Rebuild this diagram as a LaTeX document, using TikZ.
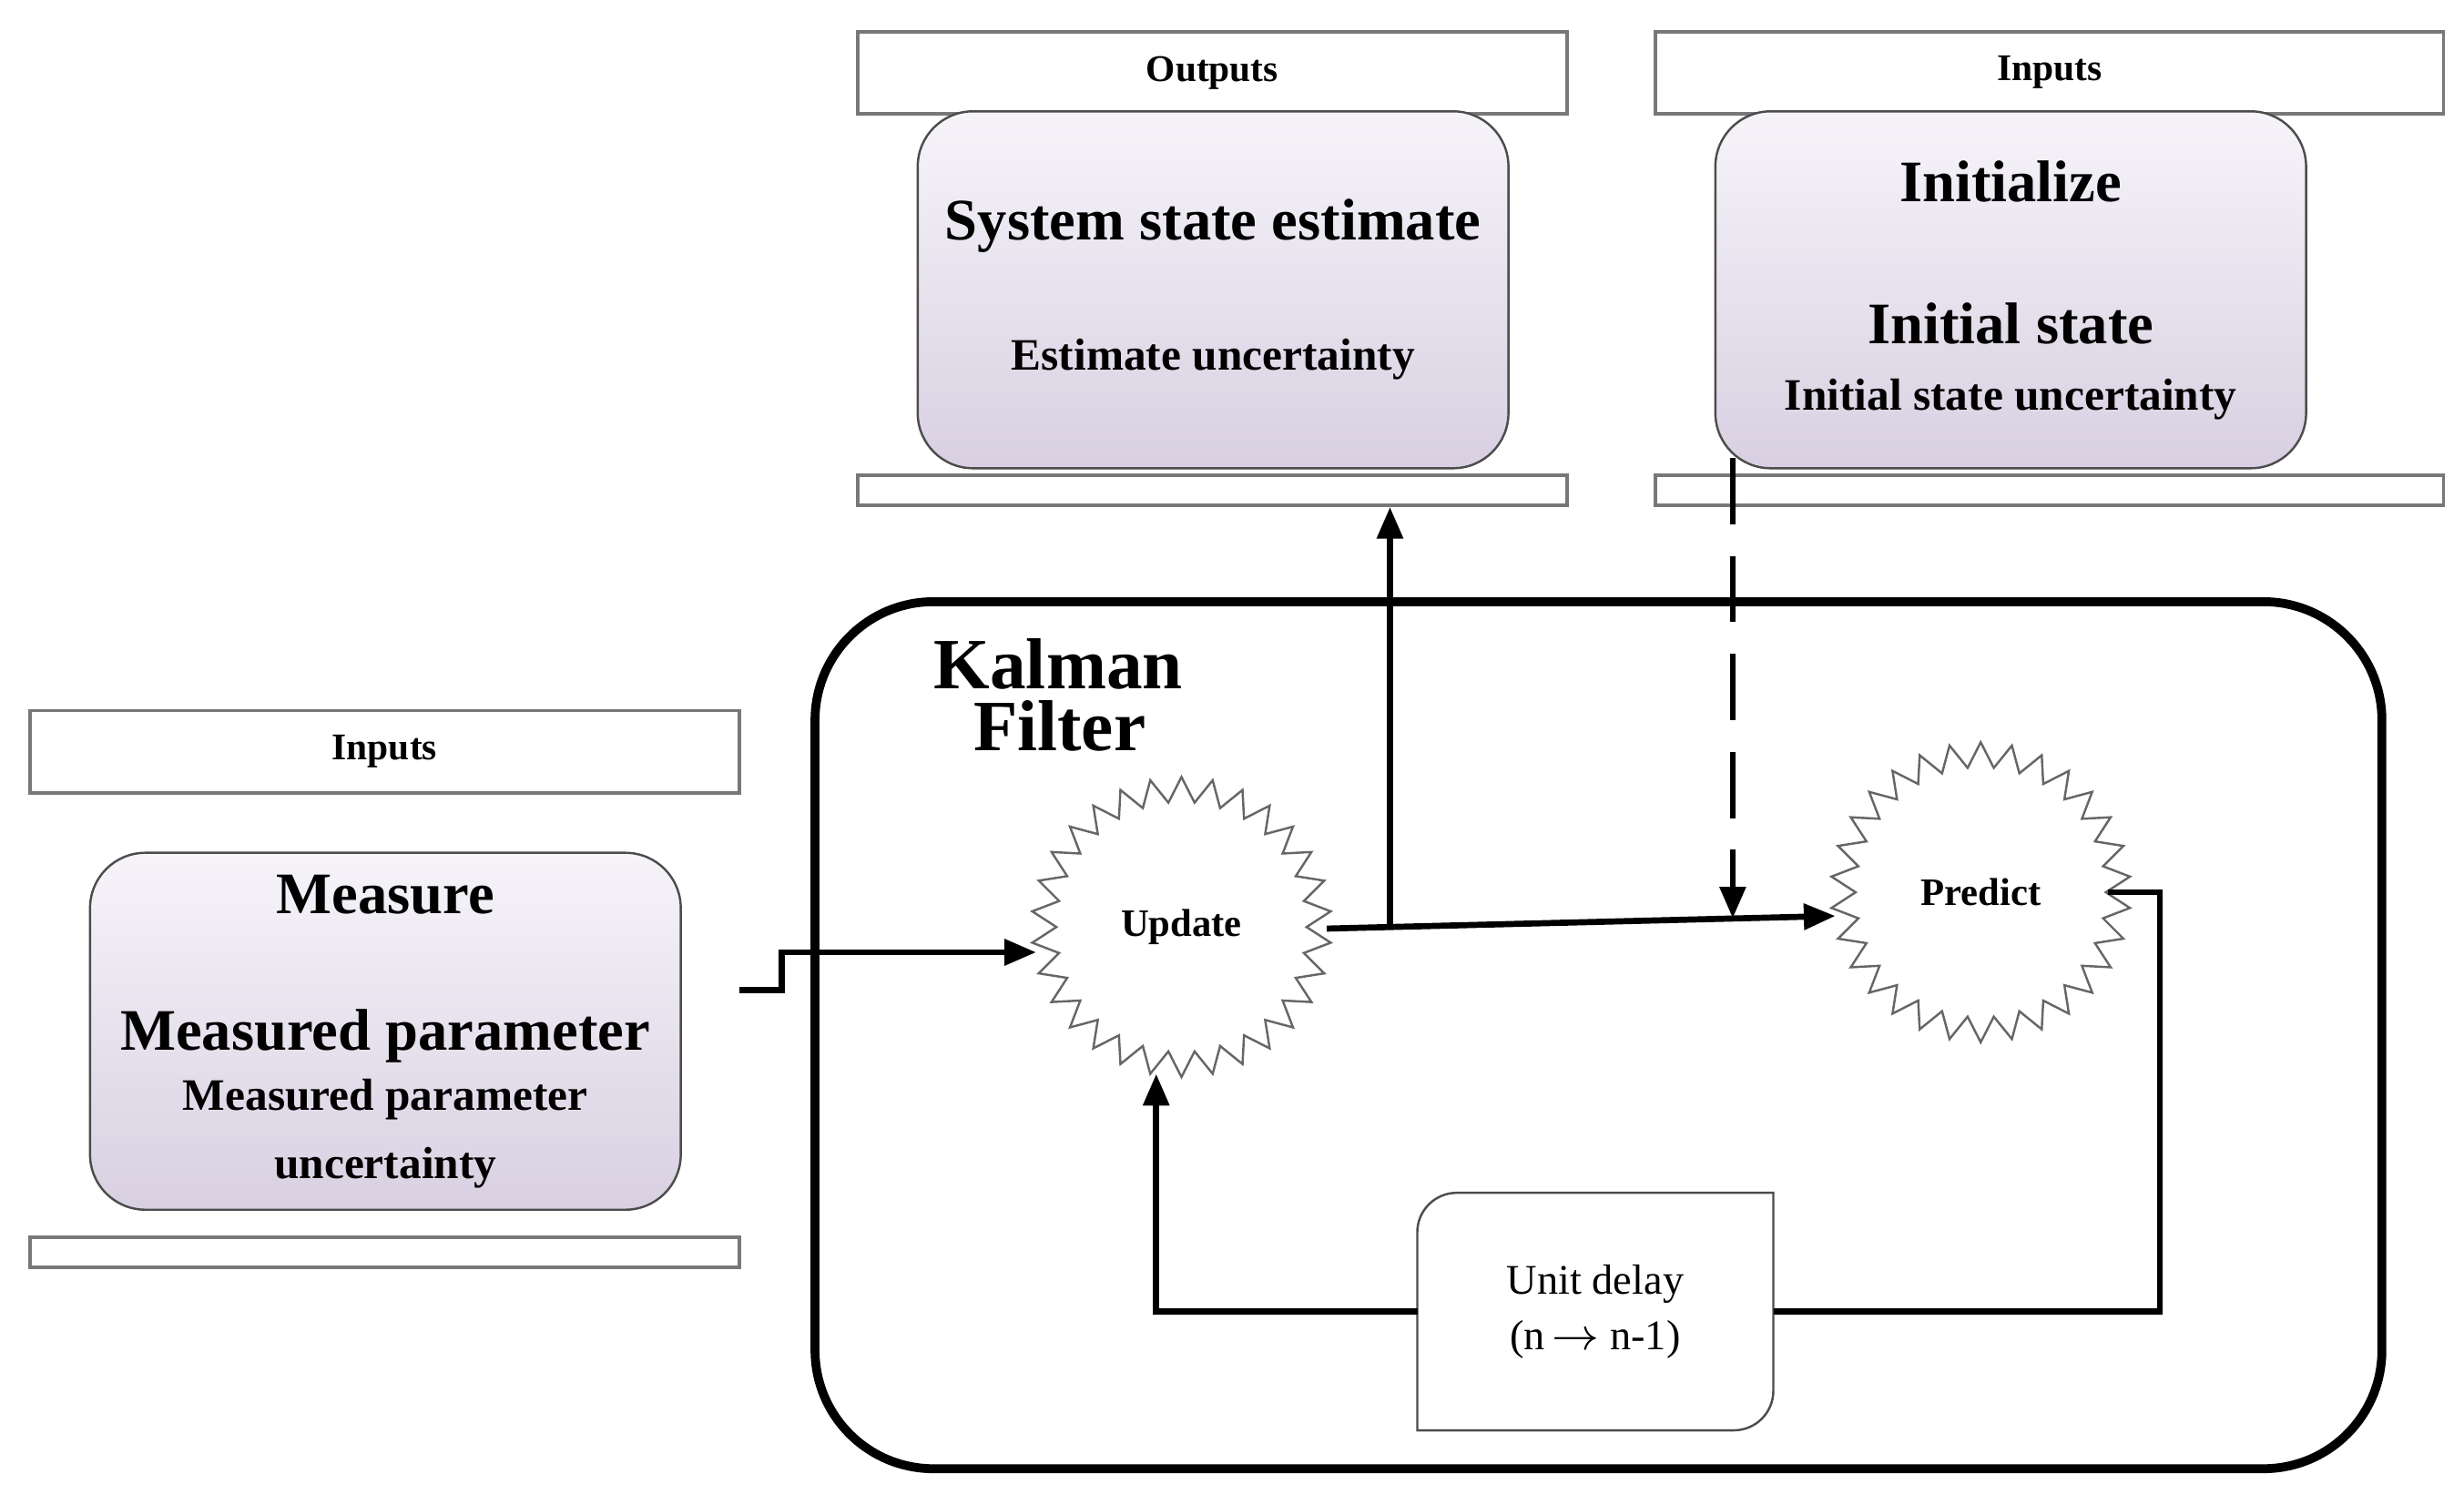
\documentclass[tikz,border=0pt]{standalone}
\usepackage{fontspec}
\setmainfont{Liberation Serif}
\usetikzlibrary{shapes.geometric,positioning,arrows.meta}
\definecolor{lavtop}{RGB}{246,244,249}
\definecolor{lavbot}{RGB}{216,208,226}
\definecolor{bargray}{RGB}{120,120,120}
\begin{document}
\begin{tikzpicture}[
    header/.style={draw=bargray, line width=0.6pt, fill=white, minimum width=4.49cm, minimum height=0.52cm, inner sep=0pt, font=\fontsize{6.8}{8}\selectfont\bfseries},
    wideheader/.style={header, minimum width=4.99cm},
    bar/.style={draw=bargray, line width=0.6pt, minimum width=4.49cm, minimum height=0.19cm, inner sep=0pt},
    widebar/.style={bar, minimum width=4.99cm},
    databox/.style={draw=black!70, line width=0.4pt, rounded corners=0.35cm, top color=lavtop, bottom color=lavbot, minimum width=3.74cm, minimum height=2.26cm},
    bigtxt/.style={font=\fontsize{10.6}{12}\selectfont\bfseries, inner sep=0pt},
    smalltxt/.style={font=\fontsize{8.1}{9}\selectfont\bfseries, inner sep=0pt},
    burst/.style={star, star points=30, star point ratio=1.2, draw=black!60, line width=0.4pt, minimum size=1.9cm, inner sep=0pt, font=\fontsize{7}{8}\selectfont\bfseries},
    flow/.style={line width=1.1pt, -{Triangle[length=0.2cm, width=0.16cm]}},
    line/.style={line width=1.1pt}
  ]
  \useasboundingbox (0,0) rectangle (15.6,9.46);

  % outputs
  \node[header] (outhead) at (7.675,9.0) {Outputs};
  \node[databox] (outbox) at (7.68,7.625) {};
  \node[bar] (outbar) at (7.675,6.355) {};
  \node[bigtxt] (sse) at ([yshift=-0.73cm]outbox.north) {System state estimate};
  \node[smalltxt] (eu) at ([yshift=-1.58cm]outbox.north) {Estimate uncertainty};

  % initial inputs
  \node[wideheader] (inhead) at (12.975,9.0) {Inputs};
  \node[databox] (inbox) at (12.73,7.625) {};
  \node[widebar] (inbar) at (12.975,6.355) {};
  \node[bigtxt] (init) at ([yshift=-0.45cm]inbox.north) {Initialize};
  \node[bigtxt] (ist) at ([yshift=-1.35cm]inbox.north) {Initial state};
  \node[smalltxt] (isu) at ([yshift=-1.83cm]inbox.north) {Initial state uncertainty};

  % measurement inputs
  \node[header] (mhead) at (2.435,4.70) {Inputs};
  \node[databox] (mbox) at (2.44,2.93) {};
  \node[bar] (mbar) at (2.435,1.53) {};
  \node[bigtxt] (meas) at ([yshift=-0.27cm]mbox.north) {Measure};
  \node[bigtxt] (mp) at ([yshift=-1.17cm]mbox.north) {Measured parameter};
  \node[smalltxt] (mpu1) at ([yshift=-1.57cm]mbox.north) {Measured parameter};
  \node[smalltxt] (mpu2) at ([yshift=-2.0cm]mbox.north) {uncertainty};

  % kalman filter
  \draw[line width=1.6pt, rounded corners=0.75cm] (5.16,0.16) rectangle (15.08,5.65);
  \node[font=\fontsize{13}{14}\selectfont\bfseries, align=left, inner sep=0pt] (kf) at (6.7,5.06) {Kalman\\[-0.1cm]\hspace*{0.25cm}Filter};
  \node[burst] (upd) at (7.48,3.59) {Update};
  \node[burst] (pred) at (12.54,3.81) {Predict};
  \node[minimum width=2.24cm, minimum height=1.49cm, font=\fontsize{7.6}{10}\selectfont, align=center] (delay) at (10.10,1.155)
        {Unit delay\\(n\,$\rightarrow$\ n-1)};
  \draw[black!70, line width=0.4pt] (delay.south west) [rounded corners=0.25cm] -- (delay.north west) [sharp corners] -- (delay.north east) [rounded corners=0.25cm] -- (delay.south east) [sharp corners] -- cycle;

  % connectors
  \coordinate (m0) at (4.68,3.19);
  \coordinate (m1) at (4.95,3.43);
  \coordinate (u0) at (6.56,3.43);
  \coordinate (j0) at (8.40,3.58);
  \coordinate (p0) at (11.62,3.66);
  \coordinate (j1) at (8.80,3.585);
  \coordinate (d0) at (10.97,6.56);
  \coordinate (d1) at (10.97,3.645);
  \coordinate (l0) at (7.32,2.66);
  \draw[flow] (m0) -| (m1) -- (u0);
  \draw[flow] (j0) -- (p0);
  \draw[flow] (j1) -- (j1 |- outbar.south);
  \draw[flow, dash pattern=on 0.42cm off 0.2cm] (d0) -- (d1);
  \draw[line] (pred.east) -- ++(0.33,0) |- (delay.east);
  \draw[flow] (delay.west) -| (l0);
\end{tikzpicture}
\end{document}
